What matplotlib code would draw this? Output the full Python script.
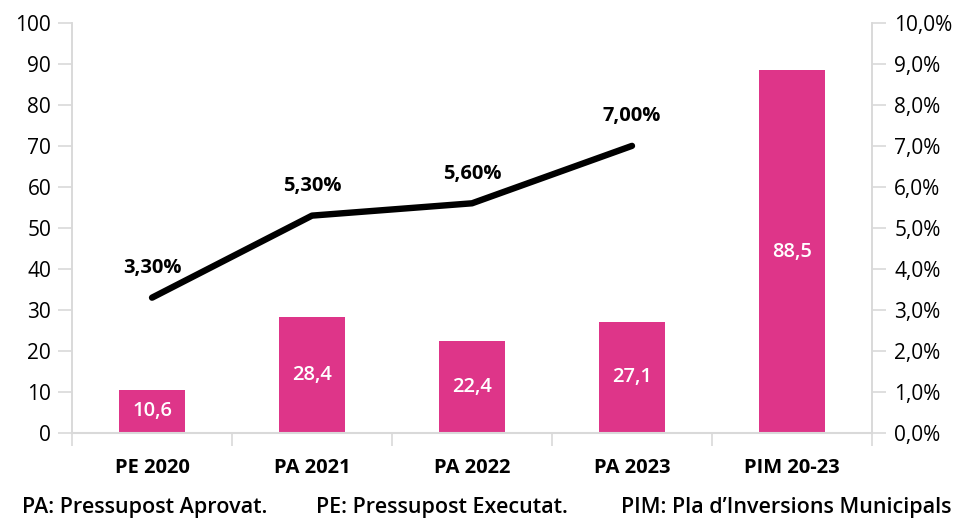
import matplotlib.pyplot as plt
from matplotlib.ticker import FuncFormatter

plt.rcParams['font.family'] = ['Open Sans', 'DejaVu Sans']

categories = ['PE 2020', 'PA 2021', 'PA 2022', 'PA 2023', 'PIM 20-23']
imports = [10.6, 28.4, 22.4, 27.1, 88.5]
pct = [3.3, 5.3, 5.6, 7.0]
notes = ['PA: Pressupost Aprovat.', 'PE: Pressupost Executat.',
         'PIM: Pla d\u2019Inversions Municipals']

pink = '#de3589'
grid = '#d9d9d9'

fig = plt.figure(figsize=(9.58, 5.18), dpi=100)
ax = fig.add_axes([0.0752, 0.164, 0.835, 0.792])
ax2 = ax.twinx()

x = list(range(len(categories)))
ax.bar(x, imports, width=0.41, color=pink, zorder=2)
for xi, v in zip(x, imports):
    ax.text(xi, v / 2, f'{v:.1f}'.replace('.', ','), ha='center', va='center',
            color='white', fontsize=14.5, fontweight='semibold', zorder=3)

ax.set_xlim(-0.5, len(categories) - 0.5)
ax.set_ylim(0, 100)
ax.set_yticks(range(0, 101, 10))
ax.set_xticks(x)
ax.set_xticklabels(categories, fontsize=14.5, fontweight='bold')
ax.set_xticks([i + 0.5 for i in range(-1, len(categories))], minor=True)
ax.tick_params(axis='x', which='major', length=0, pad=18)
ax.tick_params(axis='x', which='minor', length=9, color=grid, width=1.2)
ax.tick_params(axis='y', length=10, color=grid, width=1.2, labelsize=15, pad=5)

ax2.plot(x[:len(pct)], pct, color='black', lw=4.6, solid_capstyle='round', zorder=4)
for xi, v in zip(x, pct):
    ax2.text(xi, v + 0.72, f'{v:.2f}%'.replace('.', ','), ha='center', va='center',
             fontsize=14.5, fontweight='bold')
ax2.set_ylim(0, 10)
ax2.set_yticks(range(0, 11))
ax2.yaxis.set_major_formatter(FuncFormatter(lambda v, p: f'{v:.1f}%'.replace('.', ',')))
ax2.tick_params(axis='y', length=10, color=grid, width=1.2, labelsize=15, pad=6)

for a in (ax, ax2):
    a.spines['top'].set_visible(False)
    for s in ['left', 'right', 'bottom']:
        a.spines[s].set_color(grid)
        a.spines[s].set_linewidth(1.2)
ax.spines['bottom'].set_linewidth(1.5)
ax2.spines['bottom'].set_visible(False)
ax.spines['bottom'].set_zorder(5)

for xpos, t in zip([22, 316, 621], notes):
    fig.text(xpos / 958, 1 - 507 / 518, t, fontsize=15.5, fontweight='semibold',
             ha='left', va='center')

fig.savefig('out.png', dpi=100)
